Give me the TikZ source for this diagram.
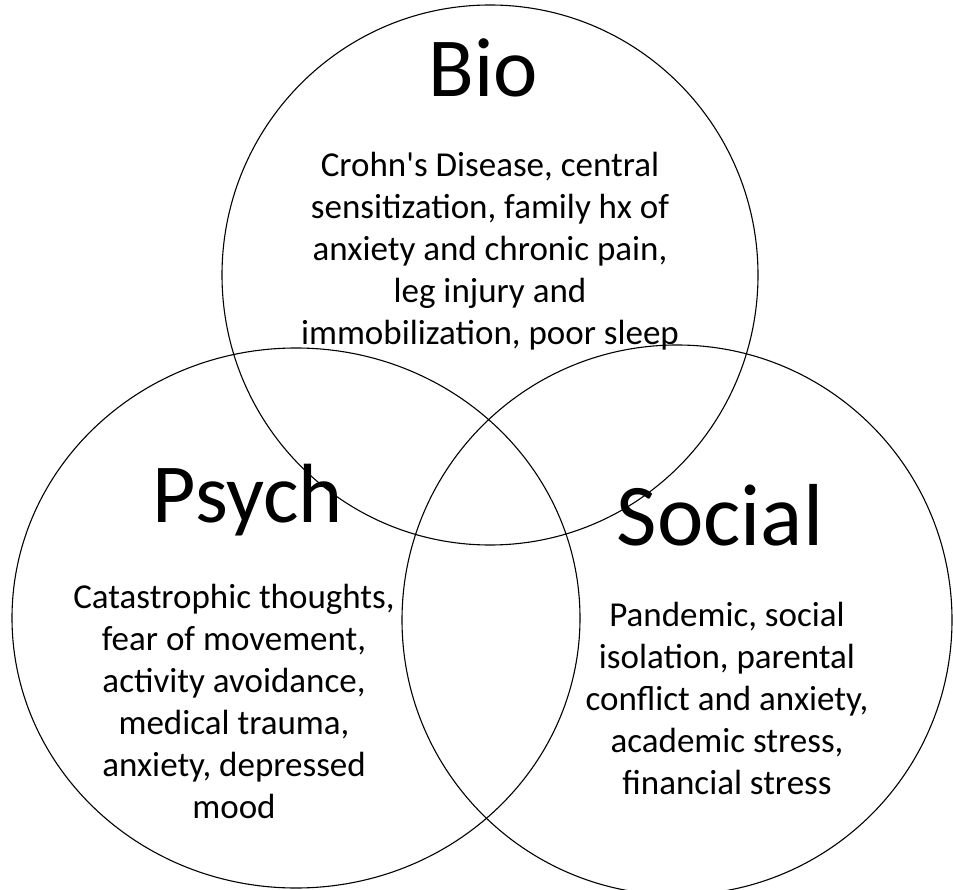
\documentclass[tikz,border=0pt]{standalone}
\usepackage{fontspec}
\setmainfont{Carlito}
% same face without TeX ligatures, so that ' stays a straight apostrophe
\newfontfamily\plaincarlito{Carlito}[Ligatures=NoCommon]
\usetikzlibrary{shapes.geometric}
\newcommand{\sq}{{\plaincarlito'}}
\begin{document}
\begin{tikzpicture}[x=1pt,y=-1pt,
  ring/.style={draw=black, line width=1.1pt, ellipse, inner sep=0pt, outer sep=0pt},
  heading/.style={font=\fontsize{84}{100}\selectfont, inner sep=0pt, anchor=base},
  body/.style={font=\fontsize{35}{42}\selectfont, align=center, inner sep=0pt}]
\useasboundingbox (0,0) rectangle (953,890);

% the three overlapping circles
\node[ring, minimum width=536pt, minimum height=540pt] (bio) at (490,275) {};
\node[ring, minimum width=568pt, minimum height=540pt] (psych) at (296,618) {};
\node[ring, minimum width=550pt, minimum height=550pt] (social) at (677,620) {};

% headings
\node[heading] (biohead) at (483,97) {Bio};
\node[heading] (psychhead) at (248,522) {Psych};
\node[heading, font=\fontsize{88}{100}\selectfont] (socialhead) at (720,545) {Social};

% factor lists
\node[body] (biotext) at (490,251) {Crohn\sq s Disease, central\\sensitization, family hx of\\anxiety and chronic pain,\\leg injury and\\immobilization, poor sleep};
\node[body] (psychtext) at (234,701) {Catastrophic thoughts,\\fear of movement,\\activity avoidance,\\medical trauma,\\anxiety, depressed\\mood};
\node[body] (socialtext) at (727,698) {Pandemic, social\\isolation, parental\\conflict and anxiety,\\academic stress,\\financial stress};
\end{tikzpicture}
\end{document}
